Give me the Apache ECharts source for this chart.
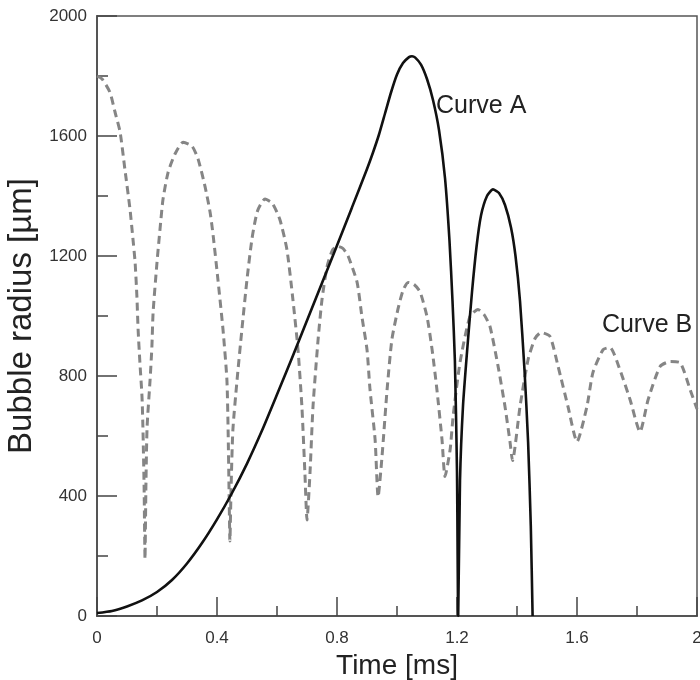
<!DOCTYPE html>
<html>
<head>
<meta charset="utf-8">
<script src="https://cdn.jsdelivr.net/npm/echarts@6/dist/echarts.min.js"></script>
<style>
html,body{margin:0;padding:0;background:#fff;}
#chart{width:700px;height:680px;}
</style>
</head>
<body>
<div id="chart"></div>
<script>
// Time [ms] and bubble radius [µm]
var curveA = [
  [0,10],[0.05,17],[0.1,32],[0.15,52],[0.2,80],[0.25,120],[0.3,175],[0.35,243],[0.4,322],
  [0.45,410],[0.5,508],[0.55,618],[0.6,738],[0.65,860],[0.7,985],[0.75,1110],[0.8,1235],
  [0.85,1362],[0.9,1490],[0.92,1545],[0.94,1605],[0.96,1675],[0.98,1745],[1.0,1805],
  [1.02,1843],[1.04,1863],[1.05,1866],[1.06,1862],[1.08,1838],[1.1,1790],[1.12,1720],
  [1.14,1620],[1.16,1460],[1.175,1250],[1.185,1050],[1.193,850],[1.2,480],[1.204,0],
  [1.21,450],[1.22,700],[1.235,900],[1.25,1080],[1.265,1230],[1.28,1335],[1.3,1400],
  [1.32,1422],[1.34,1410],[1.36,1370],[1.38,1295],[1.395,1200],[1.41,1050],[1.425,820],
  [1.437,580],[1.446,300],[1.452,0]
];
var curveB = [
  [0,1800],[0.017,1790],[0.043,1746],[0.06,1680],[0.077,1613],[0.093,1489],[0.11,1356],
  [0.12,1255],[0.127,1179],[0.133,1065],[0.137,955],[0.143,845],[0.15,731],[0.153,631],
  [0.157,430],[0.16,190],
  [0.163,430],[0.167,631],[0.177,788],[0.183,898],[0.187,1012],[0.2,1179],[0.21,1289],
  [0.22,1389],[0.237,1479],[0.26,1540],[0.287,1579],[0.317,1566],[0.337,1523],[0.36,1432],
  [0.377,1346],[0.387,1270],[0.403,1122],[0.42,955],[0.433,788],[0.437,621],[0.44,430],[0.443,250],
  [0.447,430],[0.453,621],[0.467,788],[0.483,955],[0.5,1122],[0.517,1260],[0.535,1350],
  [0.56,1390],[0.585,1375],[0.61,1320],[0.633,1222],[0.653,1055],[0.67,888],[0.683,698],
  [0.693,477],[0.7,320],
  [0.71,477],[0.72,698],[0.737,922],[0.75,1055],[0.767,1165],[0.785,1220],[0.803,1232],
  [0.82,1225],[0.837,1200],[0.867,1112],[0.883,998],[0.9,888],[0.91,755],[0.927,588],[0.937,397],
  [0.95,531],[0.967,755],[0.983,922],[1.003,1022],[1.02,1085],[1.037,1112],[1.057,1105],
  [1.077,1080],[1.1,998],[1.117,888],[1.133,755],[1.15,588],[1.16,465],
  [1.177,554],[1.187,665],[1.21,845],[1.243,998],[1.27,1022],[1.29,1005],[1.31,965],
  [1.337,832],[1.36,698],[1.377,578],[1.385,518],
  [1.41,698],[1.437,855],[1.46,925],[1.48,945],[1.51,932],[1.537,832],[1.57,698],[1.6,581],
  [1.633,698],[1.653,811],[1.687,888],[1.71,895],[1.743,821],[1.777,721],[1.81,614],
  [1.837,721],[1.877,832],[1.91,848],[1.943,845],[1.977,755],[2.0,690]
];
var xTicks = [0, 0.4, 0.8, 1.2, 1.6, 2];
var yTicks = [0, 400, 800, 1200, 1600, 2000];
var labelA = {text: 'Curve A', at: [1.13, 1700]};
var labelB = {text: 'Curve B', at: [1.683, 968]};

var FONT = '"Liberation Sans", Arial, Helvetica, sans-serif';
var chart = echarts.init(document.getElementById('chart'), null, {renderer: 'canvas'});
function fmtX(v){ var r = Math.round(v*10)/10; return xTicks.indexOf(r) >= 0 ? String(r) : ''; }
function fmtY(v){ return yTicks.indexOf(v) >= 0 ? String(v) : ''; }
var option = {
  backgroundColor: '#fff',
  animation: false,
  grid: {left: 97, right: 3, top: 16, bottom: 64, outerBoundsMode: 'none', containLabel: false,
         show: true, borderColor: '#555', borderWidth: 1.5, backgroundColor: 'transparent'},
  xAxis: {
    type: 'value', min: 0, max: 2, interval: 0.4,
    name: 'Time [ms]', nameLocation: 'middle', nameGap: 33,
    nameTextStyle: {fontFamily: FONT, fontSize: 28, color: '#222'},
    axisLine: {show: true, onZero: false, lineStyle: {color: '#555', width: 2}},
    axisTick: {show: true, inside: true, length: 19, lineStyle: {color: '#444', width: 1.5}},
    minorTick: {show: true, splitNumber: 2, length: 10, lineStyle: {color: '#444', width: 1.5}},
    axisLabel: {fontFamily: FONT, fontSize: 17, color: '#333', margin: 14, formatter: fmtX},
    splitLine: {show: false}
  },
  yAxis: {
    type: 'value', min: 0, max: 2000, interval: 400,
    name: 'Bubble radius [µm]', nameLocation: 'middle', nameGap: 59,
    nameTextStyle: {fontFamily: FONT, fontSize: 33, color: '#222'},
    axisLine: {show: true, onZero: false, lineStyle: {color: '#555', width: 2}},
    axisTick: {show: true, inside: true, length: 20, lineStyle: {color: '#444', width: 1.5}},
    minorTick: {show: true, splitNumber: 2, length: 11, lineStyle: {color: '#444', width: 1.5}},
    axisLabel: {fontFamily: FONT, fontSize: 17, color: '#333', margin: 10, formatter: fmtY},
    splitLine: {show: false}
  },
  series: [
    {
      name: 'Curve B', type: 'line', data: curveB, showSymbol: false, smooth: 0.2,
      lineStyle: {color: '#858585', width: 3, type: [8, 5]}, z: 2
    },
    {
      name: 'Curve A', type: 'line', data: curveA, showSymbol: false, smooth: 0.2,
      lineStyle: {color: '#111', width: 2.6}, z: 3
    }
  ]
};
chart.setOption(option);
var pa = chart.convertToPixel({gridIndex: 0}, labelA.at);
var pb = chart.convertToPixel({gridIndex: 0}, labelB.at);
chart.setOption({
  graphic: [
    {type: 'text', x: pa[0], y: pa[1], style: {text: labelA.text, fontFamily: FONT, fontSize: 25, fill: '#222', verticalAlign: 'middle'}},
    {type: 'text', x: pb[0], y: pb[1], style: {text: labelB.text, fontFamily: FONT, fontSize: 25, fill: '#222', verticalAlign: 'middle'}}
  ]
});
</script>
</body>
</html>
